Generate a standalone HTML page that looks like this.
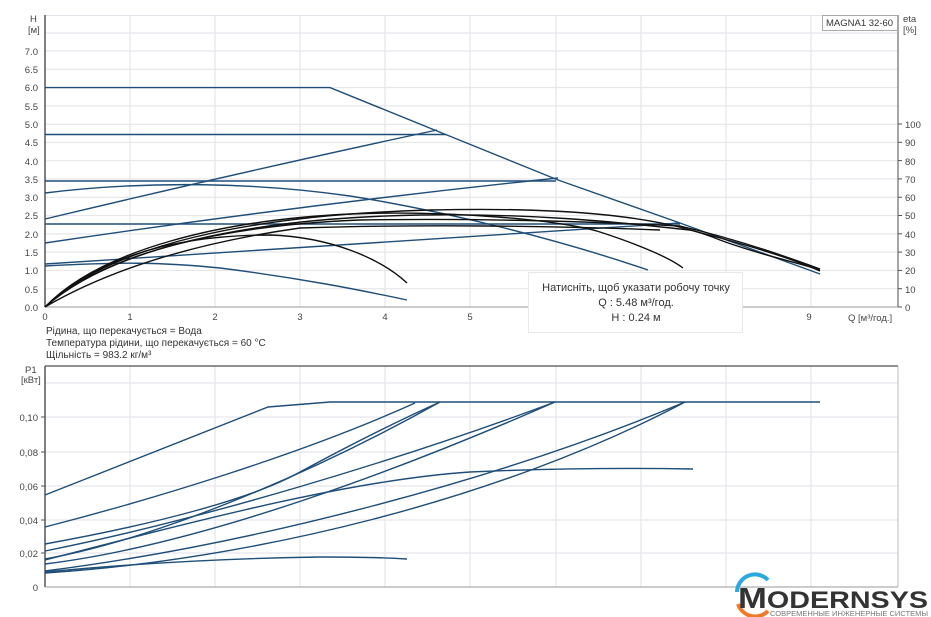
<!DOCTYPE html>
<html><head><meta charset="utf-8"><style>
body{margin:0;background:#fff;width:931px;height:617px;overflow:hidden}
svg{display:block;font-family:"Liberation Sans","DejaVu Sans",sans-serif}
</style></head><body>
<svg width="931" height="617" viewBox="0 0 931 617">
<g stroke="#e2e2e8" stroke-width="1">
<line x1="45" y1="15.5" x2="898" y2="15.5"/>
<line x1="45" y1="33" x2="898" y2="33"/><line x1="45" y1="51" x2="898" y2="51"/><line x1="45" y1="69.3" x2="898" y2="69.3"/><line x1="45" y1="87.6" x2="898" y2="87.6"/><line x1="45" y1="105.9" x2="898" y2="105.9"/><line x1="45" y1="124.2" x2="898" y2="124.2"/><line x1="45" y1="142.4" x2="898" y2="142.4"/><line x1="45" y1="160.7" x2="898" y2="160.7"/><line x1="45" y1="179" x2="898" y2="179"/><line x1="45" y1="197.3" x2="898" y2="197.3"/><line x1="45" y1="215.6" x2="898" y2="215.6"/><line x1="45" y1="233.9" x2="898" y2="233.9"/><line x1="45" y1="252.1" x2="898" y2="252.1"/><line x1="45" y1="270.4" x2="898" y2="270.4"/><line x1="45" y1="288.7" x2="898" y2="288.7"/>
<line x1="130" y1="15" x2="130" y2="307"/><line x1="215" y1="15" x2="215" y2="307"/><line x1="300" y1="15" x2="300" y2="307"/><line x1="385" y1="15" x2="385" y2="307"/><line x1="470" y1="15" x2="470" y2="307"/><line x1="556" y1="15" x2="556" y2="307"/><line x1="641" y1="15" x2="641" y2="307"/><line x1="726" y1="15" x2="726" y2="307"/><line x1="811" y1="15" x2="811" y2="307"/>
<line x1="130" y1="366" x2="130" y2="587"/><line x1="215" y1="366" x2="215" y2="587"/><line x1="300" y1="366" x2="300" y2="587"/><line x1="385" y1="366" x2="385" y2="587"/><line x1="470" y1="366" x2="470" y2="587"/><line x1="556" y1="366" x2="556" y2="587"/><line x1="641" y1="366" x2="641" y2="587"/><line x1="726" y1="366" x2="726" y2="587"/><line x1="811" y1="366" x2="811" y2="587"/>
<line x1="45" y1="383" x2="898" y2="383"/><line x1="45" y1="417" x2="898" y2="417"/><line x1="45" y1="452" x2="898" y2="452"/><line x1="45" y1="486" x2="898" y2="486"/><line x1="45" y1="520" x2="898" y2="520"/><line x1="45" y1="553" x2="898" y2="553"/>
</g>
<line x1="45" y1="15" x2="45" y2="307" stroke="#555" stroke-width="1.5"/>
<line x1="45" y1="307" x2="898" y2="307" stroke="#999"/>
<line x1="898" y1="15" x2="898" y2="307" stroke="#888" stroke-width="1.5"/>
<line x1="45" y1="366" x2="898" y2="366" stroke="#222"/>
<line x1="45" y1="366" x2="45" y2="587" stroke="#555" stroke-width="1.5"/>
<line x1="45" y1="587" x2="898" y2="587" stroke="#999"/>
<line x1="898" y1="366" x2="898" y2="587" stroke="#bbb"/>
<g stroke="#555"><line x1="898" y1="124" x2="902" y2="124"/><line x1="898" y1="142.3" x2="902" y2="142.3"/><line x1="898" y1="160.6" x2="902" y2="160.6"/><line x1="898" y1="178.9" x2="902" y2="178.9"/><line x1="898" y1="197.2" x2="902" y2="197.2"/><line x1="898" y1="215.5" x2="902" y2="215.5"/><line x1="898" y1="233.8" x2="902" y2="233.8"/><line x1="898" y1="252.1" x2="902" y2="252.1"/><line x1="898" y1="270.4" x2="902" y2="270.4"/><line x1="898" y1="288.7" x2="902" y2="288.7"/><line x1="898" y1="307" x2="902" y2="307"/>
<line x1="41" y1="417" x2="45" y2="417"/><line x1="41" y1="452" x2="45" y2="452"/><line x1="41" y1="486" x2="45" y2="486"/><line x1="41" y1="520" x2="45" y2="520"/><line x1="41" y1="553" x2="45" y2="553"/></g>
<g font-size="9.5" fill="#444" text-anchor="end">
<text x="38" y="55">7.0</text><text x="38" y="73">6.5</text><text x="38" y="91">6.0</text><text x="38" y="110">5.5</text><text x="38" y="128">5.0</text><text x="38" y="146">4.5</text><text x="38" y="165">4.0</text><text x="38" y="183">3.5</text><text x="38" y="201">3.0</text><text x="38" y="219">2.5</text><text x="38" y="238">2.0</text><text x="38" y="256">1.5</text><text x="38" y="274">1.0</text><text x="38" y="293">0.5</text><text x="38" y="311">0.0</text>
<text x="38" y="421">0,10</text><text x="38" y="456">0,08</text><text x="38" y="490">0,06</text><text x="38" y="524">0,04</text><text x="38" y="557">0,02</text><text x="38" y="591">0</text>
</g>
<g font-size="9.5" fill="#444">
<text x="905" y="128">100</text><text x="905" y="146">90</text><text x="905" y="165">80</text><text x="905" y="183">70</text><text x="905" y="201">60</text><text x="905" y="219">50</text><text x="905" y="238">40</text><text x="905" y="256">30</text><text x="905" y="274">20</text><text x="905" y="293">10</text><text x="905" y="311">0</text>
<text x="903" y="22">eta</text><text x="903" y="33">[%]</text>
<text x="30" y="22">H</text><text x="28" y="33">[м]</text>
<text x="25" y="373">P1</text><text x="21" y="383">[кВт]</text>
<text x="848" y="321">Q [м³/год.]</text>
</g>
<g font-size="9.5" fill="#444" text-anchor="middle">
<text x="45" y="320">0</text><text x="130" y="320">1</text><text x="215" y="320">2</text><text x="300" y="320">3</text><text x="385" y="320">4</text><text x="470" y="320">5</text><text x="809" y="320">9</text>
</g>
<g font-size="10" fill="#333">
<text x="46" y="334">Рідина, що перекачується = Вода</text>
<text x="46" y="346">Температура рідини, що перекачується = 60 °C</text>
<text x="46" y="358">Щільність = 983.2 кг/м³</text>
</g>
<rect x="822.5" y="15.5" width="75" height="15" fill="#fff" stroke="#aaa"/>
<text x="826" y="26" font-size="9.5" fill="#333">MAGNA1 32-60</text>
<g fill="none" stroke="#1f4e79" stroke-width="1.4">
<polyline points="45,87.6 330,87.6 437,131 558,180 680,223 820,274"/>
<polyline points="45,134.5 446,134.5"/>
<polyline points="45,181 556,181"/>
<polyline points="45,224 680,224"/>
<path d="M45,219 Q250,170 437,130"/>
<path d="M45,243 Q300,205 558,178"/>
<path d="M45,264 Q350,245 680,223"/>
<path d="M45,193 C150,180 260,183 350,196 C450,212 560,240 648,270"/>
<path d="M45,266 C120,262 160,262 220,268 C300,278 360,290 407,300"/>
</g>
<g fill="none" stroke="#111" stroke-width="1.4">
<path d="M45,307 C100,255 180,235 270,235 C330,237 380,258 407,283"/>
<path d="M45,307 C100,250 220,220 350,214 C450,210 560,220 600,232 C640,245 670,258 683,268"/>
<path d="M45,307 C110,245 250,215 430,210 C560,207 660,215 720,240 C760,255 800,263 820,270"/>
<path d="M45,307 C110,248 250,218 420,215 C550,213 640,225 690,230 C760,248 800,262 820,271"/>
<path d="M45,307 C110,250 230,225 360,220 C480,218 600,222 680,226 C740,240 790,258 820,269"/>
<path d="M45,307 C100,275 180,245 300,228 C420,224 560,226 660,230"/>
</g>
<g fill="none" stroke="#1f4e79" stroke-width="1.4">
<polyline points="45,495 268,407 330,402 820,402"/>
<path d="M45,527 C150,500 300,455 415,403"/>
<path d="M45,544 C150,525 250,500 300,472 C350,445 400,420 440,402"/>
<path d="M45,559 C150,540 300,480 440,402"/>
<path d="M45,551 C200,520 400,460 555,402"/>
<path d="M45,564 C200,545 400,470 555,402"/>
<path d="M45,571 C250,545 500,480 685,402"/>
<path d="M45,573 C250,560 500,500 685,402"/>
<path d="M45,560 C200,520 350,480 470,472 C560,468 640,468 693,469"/>
<path d="M45,572 C150,562 250,558 320,557 C360,557 390,558 407,559"/>
</g>
<rect x="528.5" y="272.5" width="214" height="60" fill="#fff" stroke="#e8e8e8"/>
<g font-size="11" fill="#333" text-anchor="middle">
<text x="636" y="291">Натисніть, щоб указати робочу точку</text>
<text x="636" y="306">Q : 5.48 м³/год.</text>
<text x="636" y="321">H : 0.24 м</text>
</g>
<path d="M768,580 A18,18 0 0 0 737,592" fill="none" stroke="#2aa8e0" stroke-width="4"/>
<path d="M738,604 A18,18 0 0 0 768,611" fill="none" stroke="#f07a2a" stroke-width="4"/>
<text x="738" y="608" font-size="29" font-weight="bold" fill="#333" textLength="190" lengthAdjust="spacingAndGlyphs">M<tspan font-size="24">ODERNSYS</tspan></text>
<text x="770" y="616" font-size="7" fill="#777" textLength="158" lengthAdjust="spacingAndGlyphs">СОВРЕМЕННЫЕ ИНЖЕНЕРНЫЕ СИСТЕМЫ</text>
</svg>
</body></html>
